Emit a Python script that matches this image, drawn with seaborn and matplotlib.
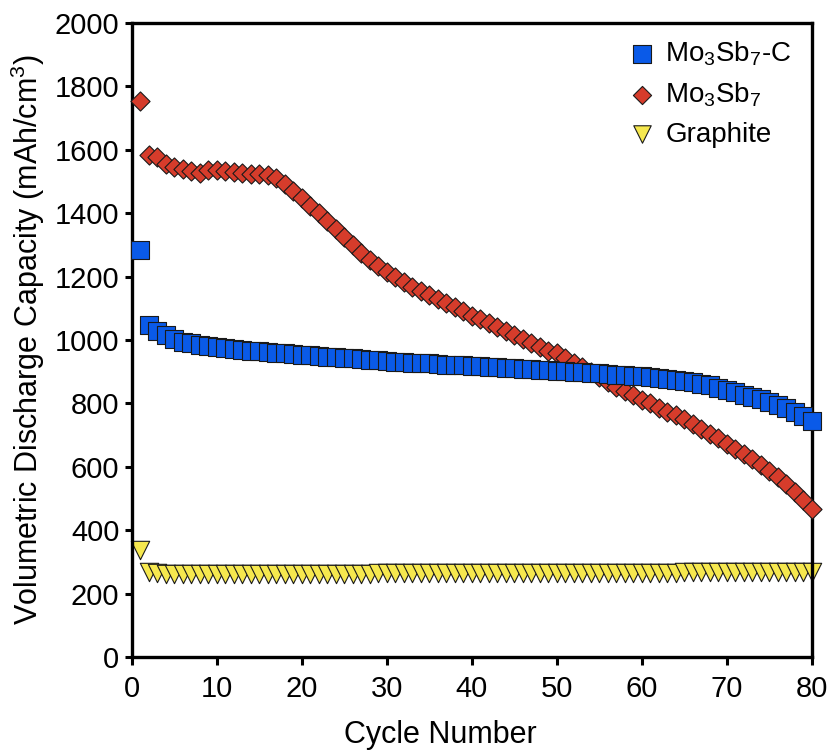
import numpy as np
import pandas as pd
import seaborn as sns
import matplotlib.pyplot as plt

sns.set_theme(style="white")
plt.rcParams['font.family'] = ['Liberation Sans', 'DejaVu Sans']
plt.rcParams['mathtext.fontset'] = 'custom'
plt.rcParams['mathtext.rm'] = 'Liberation Sans'
plt.rcParams['mathtext.it'] = 'Liberation Sans'
for key in ['text.color', 'axes.labelcolor', 'xtick.color', 'ytick.color']:
    plt.rcParams[key] = 'black'

cycles = list(range(1, 81))

mo3sb7_c = [1285, 1048, 1030, 1015, 1003, 995, 990, 985, 980, 977,
            974, 971, 968, 966, 964, 962, 960, 958, 956, 954,
            952, 950, 948, 946, 944, 942, 940, 938, 936, 934,
            932, 930, 929, 928, 926, 924, 922, 921, 920, 918,
            917, 915, 914, 912, 911, 909, 908, 906, 905, 903,
            902, 900, 899, 897, 895, 893, 891, 889, 887, 885,
            882, 879, 876, 873, 870, 866, 862, 857, 850, 842,
            835, 828, 821, 813, 804, 795, 785, 773, 760, 745]

mo3sb7 = [1755, 1585, 1578, 1555, 1545, 1538, 1532, 1528, 1535, 1535,
          1533, 1530, 1527, 1525, 1523, 1522, 1510, 1492, 1470, 1448,
          1424, 1400, 1375, 1350, 1325, 1300, 1275, 1253, 1235, 1215,
          1198, 1182, 1168, 1155, 1142, 1130, 1117, 1105, 1090, 1077,
          1065, 1053, 1041, 1029, 1016, 1003, 990, 977, 966, 958,
          944, 929, 914, 898, 882, 866, 852, 838, 825, 812,
          800, 787, 774, 762, 750, 735, 720, 705, 690, 673,
          657, 641, 624, 606, 587, 567, 545, 520, 495, 468]

graphite = [337, 268, 264, 262, 262, 262, 262, 262, 262, 262,
            262, 262, 262, 262, 262, 262, 262, 262, 263, 263,
            263, 263, 263, 263, 263, 263, 263, 263, 264, 264,
            264, 264, 264, 264, 264, 264, 265, 265, 265, 265,
            265, 265, 265, 265, 265, 265, 265, 265, 266, 266,
            266, 266, 266, 266, 266, 266, 266, 266, 266, 266,
            266, 266, 266, 266, 267, 267, 267, 267, 267, 267,
            267, 267, 267, 267, 268, 268, 268, 268, 268, 268]

series_names = ["Mo$_3$Sb$_7$-C", "Mo$_3$Sb$_7$", "Graphite"]
series_vals = [mo3sb7_c, mo3sb7, graphite]
colors = ["#0a5ae8", "#d63c2b", "#f6e84e"]
markers = ["s", "D", "v"]
sizes = [170, 95, 175]
zorders = [4, 3, 2]

fig = plt.figure(figsize=(8.3, 7.54), dpi=100)
ax = fig.add_axes([0.159, 0.1286, 0.819, 0.8409])

for name, vals, c, m, s, z in zip(series_names, series_vals, colors, markers, sizes, zorders):
    df = pd.DataFrame({"Cycle": cycles, "Capacity": vals})
    sns.scatterplot(data=df, x="Cycle", y="Capacity", ax=ax, color=c, marker=m,
                    s=s, edgecolor="#1a1a1a", linewidth=0.8, label=name,
                    zorder=z, clip_on=False)

ax.set_xlim(0, 80)
ax.set_ylim(0, 2000)
ax.set_xticks(range(0, 81, 10))
ax.set_yticks(range(0, 2001, 200))
ax.tick_params(axis='x', labelsize=21, direction='out', length=6, width=2.2, pad=7)
ax.tick_params(axis='y', labelsize=21, direction='out', length=5, width=2.2, pad=4)
ax.tick_params(bottom=True, left=True, top=False, right=False)
for sp in ax.spines.values():
    sp.set_linewidth(2.4)
    sp.set_color('black')

ax.set_xlabel("Cycle Number", fontsize=22, labelpad=11)
ax.xaxis.set_label_coords(0.454, -0.1, transform=ax.transAxes)
ax.xaxis.label.set_va('top')
ax.set_ylabel("Volumetric Discharge Capacity (mAh/cm$^3$)", fontsize=22, labelpad=6)

leg = ax.legend(loc='upper right', bbox_to_anchor=(0.995, 1.0), frameon=False, fontsize=20,
                handletextpad=0.35, borderaxespad=0.2, labelspacing=0.45,
                markerscale=0.95, handlelength=1.0)

fig.savefig("out.png", dpi=100)
